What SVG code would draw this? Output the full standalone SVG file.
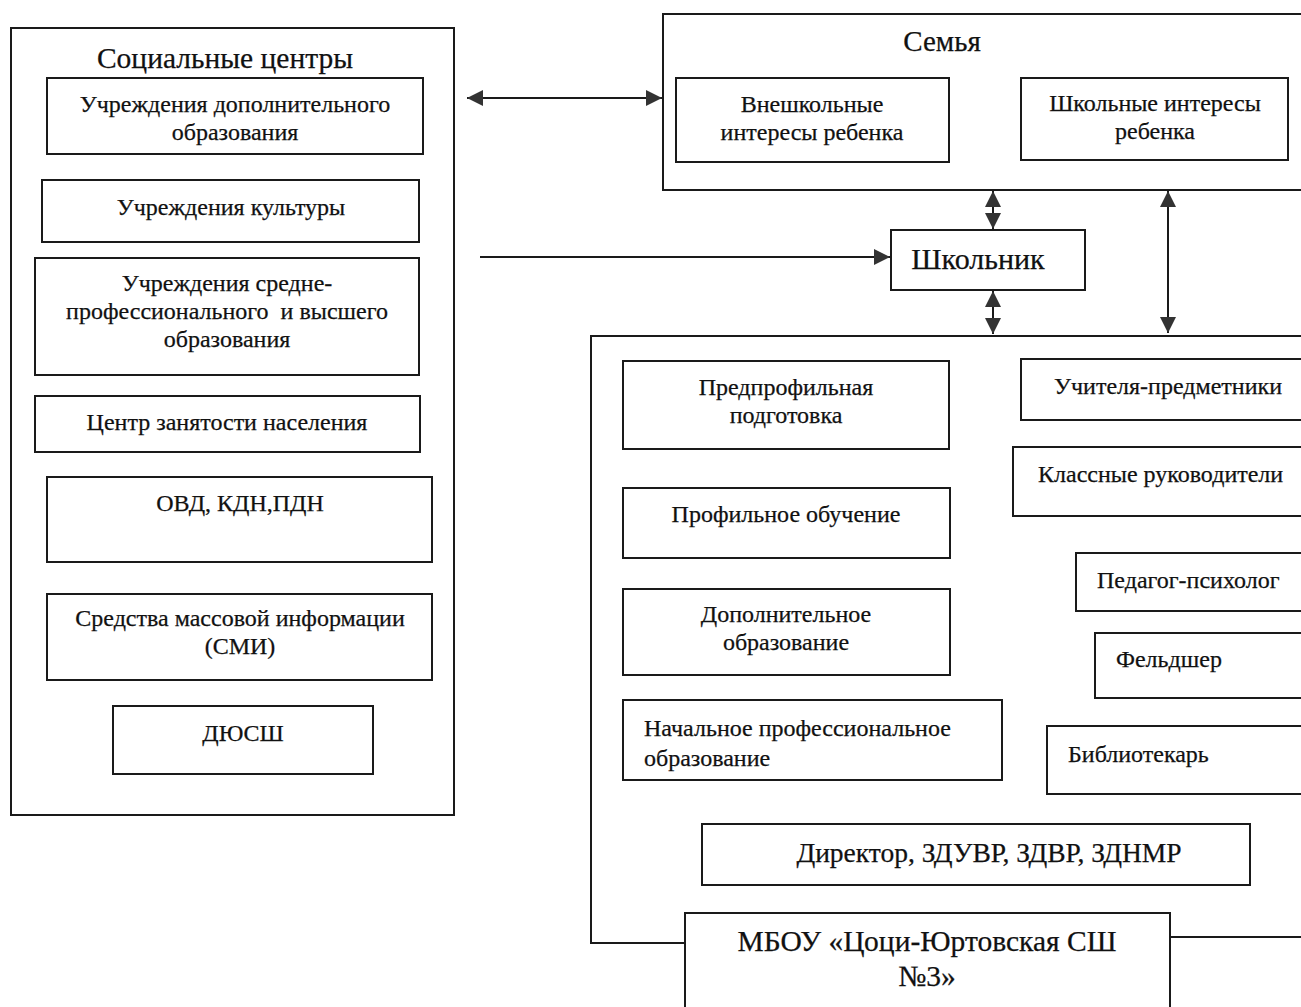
<svg xmlns="http://www.w3.org/2000/svg" width="1301" height="1007" viewBox="0 0 1301 1007">
<style>
.b{fill:#fff;stroke:#1a1a1a;stroke-width:2}
.l{fill:none;stroke:#1a1a1a;stroke-width:2}
.t{font-family:"Liberation Serif","Times New Roman",serif;font-size:24px;fill:#111;stroke:#111;stroke-width:0.25;text-anchor:middle}
.s{text-anchor:start}
.h{font-size:29.5px}
</style>
<defs>
<marker id="ah" viewBox="0 0 10 10" refX="10" refY="5" markerWidth="16" markerHeight="16" markerUnits="userSpaceOnUse" orient="auto-start-reverse">
<path d="M0,0 L10,5 L0,10 Z" fill="#333"/>
</marker>
</defs>
<rect width="1301" height="1007" fill="#fff"/>
<g id="social">
<rect class="b" x="11" y="28" width="443" height="787"/>
<text class="t h" x="225" y="68">Социальные центры</text>
</g>
<g id="n1"><rect class="b" x="47" y="78" width="376" height="76"/><text class="t" x="235" y="112">Учреждения дополнительного</text><text class="t" x="235" y="140">образования</text></g>
<g id="n2"><rect class="b" x="42" y="180" width="377" height="62"/><text class="t" x="231" y="215">Учреждения культуры</text></g>
<g id="n3"><rect class="b" x="35" y="258" width="384" height="117"/><text class="t" x="227" y="291">Учреждения средне-</text><text class="t" x="227" y="319" xml:space="preserve">профессионального  и высшего</text><text class="t" x="227" y="347">образования</text></g>
<g id="n4"><rect class="b" x="35" y="396" width="385" height="56"/><text class="t" x="227" y="430">Центр занятости населения</text></g>
<g id="n5"><rect class="b" x="47" y="477" width="385" height="85"/><text class="t" x="240" y="511">ОВД, КДН,ПДН</text></g>
<g id="n6"><rect class="b" x="47" y="594" width="385" height="86"/><text class="t" x="240" y="626">Средства массовой информации</text><text class="t" x="240" y="654">(СМИ)</text></g>
<g id="n7"><rect class="b" x="113" y="706" width="260" height="68"/><text class="t" x="243" y="741">ДЮСШ</text></g>

<g id="family">
<rect class="b" x="663" y="14" width="650" height="176"/>
<text class="t" x="942" y="51" style="font-size:29px">Семья</text>
</g>
<g id="f1"><rect class="b" x="676" y="78" width="273" height="84"/><text class="t" x="812" y="112">Внешкольные</text><text class="t" x="812" y="140">интересы ребенка</text></g>
<g id="f2"><rect class="b" x="1021" y="78" width="267" height="82"/><text class="t" x="1155" y="111">Школьные интересы</text><text class="t" x="1155" y="139">ребенка</text></g>

<g id="pupil"><rect class="b" x="891" y="230" width="194" height="60"/><text class="t" x="978" y="269" style="font-size:30px">Школьник</text></g>

<g id="school">
<path class="l" d="M685,943 H591 V336 H1310"/>
<path class="l" d="M1170,937 H1310"/>
</g>
<g id="r1"><rect class="b" x="623" y="361" width="326" height="88"/><text class="t" x="786" y="395">Предпрофильная</text><text class="t" x="786" y="423">подготовка</text></g>
<g id="r2"><rect class="b" x="623" y="488" width="327" height="70"/><text class="t" x="786" y="522">Профильное обучение</text></g>
<g id="r3"><rect class="b" x="623" y="589" width="327" height="86"/><text class="t" x="786" y="622">Дополнительное</text><text class="t" x="786" y="650">образование</text></g>
<g id="r4"><rect class="b" x="623" y="700" width="379" height="80"/><text class="t s" x="644" y="736">Начальное профессиональное</text><text class="t s" x="644" y="766">образование</text></g>
<g id="s1"><rect class="b" x="1021" y="359" width="290" height="61"/><text class="t" x="1168" y="394">Учителя-предметники</text></g>
<g id="s2"><rect class="b" x="1013" y="447" width="298" height="69"/><text class="t s" x="1038" y="482">Классные руководители</text></g>
<g id="s3"><rect class="b" x="1076" y="553" width="235" height="58"/><text class="t s" x="1097" y="588">Педагог-психолог</text></g>
<g id="s4"><rect class="b" x="1095" y="633" width="216" height="65"/><text class="t s" x="1116" y="667">Фельдшер</text></g>
<g id="s5"><rect class="b" x="1047" y="726" width="264" height="68"/><text class="t s" x="1068" y="762">Библиотекарь</text></g>
<g id="dir"><rect class="b" x="702" y="824" width="548" height="61"/><text class="t" x="989" y="862" style="font-size:27.5px">Директор, ЗДУВР, ЗДВР, ЗДНМР</text></g>
<g id="mbou"><rect class="b" x="685" y="913" width="485" height="100"/><text class="t" x="927" y="951" style="font-size:29.5px">МБОУ «Цоци-Юртовская СШ</text><text class="t" x="927" y="986" style="font-size:29.5px">№3»</text></g>

<g id="connectors">
<line class="l" x1="467" y1="98" x2="662" y2="98" marker-start="url(#ah)" marker-end="url(#ah)"/>
<line class="l" x1="480" y1="257" x2="890" y2="257" marker-end="url(#ah)"/>
<line class="l" x1="993" y1="191" x2="993" y2="229" marker-start="url(#ah)" marker-end="url(#ah)"/>
<line class="l" x1="993" y1="291" x2="993" y2="334" marker-start="url(#ah)" marker-end="url(#ah)"/>
<line class="l" x1="1168" y1="191" x2="1168" y2="333" marker-start="url(#ah)" marker-end="url(#ah)"/>
</g>
</svg>
